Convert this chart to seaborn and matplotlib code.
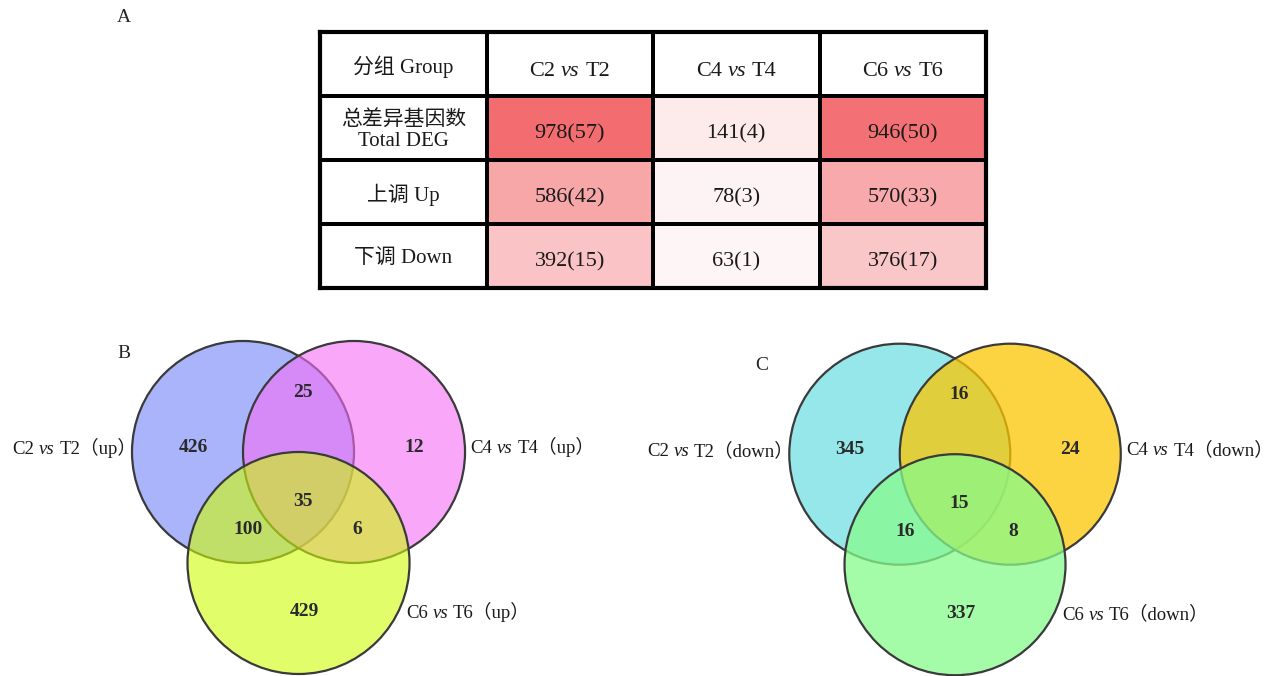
import numpy as np
import pandas as pd
import matplotlib.pyplot as plt
import seaborn as sns
from matplotlib.colors import LinearSegmentedColormap, to_rgba
from matplotlib.patches import Circle
from matplotlib.transforms import offset_copy

# ---- data ----
ctrl = ["C2", "C4", "C6"]
treat = ["T2", "T4", "T6"]
head_label = "分组 Group"
row_labels = ["总差异基因数\nTotal DEG", "上调 Up", "下调 Down"]
total_deg = [978, 141, 946]
total_sig = [57, 4, 50]
up_deg = [586, 78, 570]
up_sig = [42, 3, 33]
down_deg = [392, 63, 376]
down_sig = [15, 1, 17]

# venn regions: A only, A&B, B only, A&B&C, A&C, B&C, C only
venn_up = [426, 25, 12, 35, 100, 6, 429]
venn_down = [345, 16, 24, 15, 16, 8, 337]
up_colors = ["#7182f7", "#f56ef5", "#d0fd07"]
down_colors = ["#73e0e3", "#fbc602", "#87fb8b"]

sns.set_style("white")
plt.rcParams["font.family"] = ["Liberation Serif", "Noto Sans CJK SC"]

fig = plt.figure(figsize=(12.77, 6.76), dpi=100)
renderer = fig.canvas.get_renderer()


def rich_text(ax, x, y, parts, ha="center", size=14, color="#1a1a1a"):
    # pieces of text with own style, laid out side by side on one baseline
    arts = [ax.text(x, y, s, ha="left", va="baseline", fontstyle=st,
                    fontsize=size, color=color) for s, st in parts]
    widths = [a.get_window_extent(renderer).width for a in arts]
    px = size * fig.dpi / 72
    gap = 0.25 * px
    total = sum(widths) + gap * (len(arts) - 1)
    off = {"left": 0, "center": -total / 2, "right": -total}[ha]
    for a, w in zip(arts, widths):
        a.set_transform(offset_copy(ax.transData, fig=fig, x=off, y=-0.33 * px,
                                    units="dots"))
        off += w + gap


def vs_parts(c, t, suffix=""):
    return [(c, "normal"), ("vs", "italic"), (t + suffix, "normal")]


# ---- table (A) ----
vals = np.array([total_deg, up_deg, down_deg], dtype=float)
sig = np.array([total_sig, up_sig, down_sig])
grid = np.full((4, 4), np.nan)
grid[1:, 1:] = vals
annot = np.full((4, 4), "", dtype=object)
for i in range(3):
    for j in range(3):
        annot[i + 1, j + 1] = f"{int(vals[i, j])}({sig[i, j]})"

cmap = LinearSegmentedColormap.from_list("deg", ["#ffffff", "#f36c70"])
cmap.set_bad("white")

ax_t = fig.add_axes([320 / 1277, 1 - 288 / 676, 666 / 1277, 256 / 676])
sns.heatmap(pd.DataFrame(grid), ax=ax_t, cmap=cmap, vmin=0, vmax=vals.max(),
            annot=annot, fmt="", cbar=False, linewidths=2.6, linecolor="black",
            annot_kws={"color": "#1a1a1a", "fontsize": 16, "va": "center_baseline"},
            xticklabels=False, yticklabels=False)
for t in ax_t.texts:
    x0, y0 = t.get_position()
    t.set_position((x0, y0 + 0.05))
for s in ax_t.spines.values():
    s.set_visible(True)
    s.set_linewidth(3)
    s.set_color("black")

ax_t.text(0.5, 0.55, head_label, ha="center", va="center", fontsize=15,
          color="#1a1a1a")
for j in range(3):
    rich_text(ax_t, j + 1.5, 0.58, vs_parts(ctrl[j], treat[j]), size=16)
for i, lab in enumerate(row_labels):
    ax_t.text(0.5, i + 1.54, lab, ha="center", va="center", fontsize=15,
              linespacing=1.2, color="#1a1a1a")


# ---- venn (B, C) ----
def venn3(ax, counts, colors, suffix, alpha=0.6):
    centers = [(-0.5, 0.5), (0.5, 0.5), (0.0, -0.5)]
    for c, col in zip(centers, colors):
        ax.add_patch(Circle(c, 1.0, facecolor=to_rgba(col, alpha),
                            edgecolor="#3a3a3a", lw=1.6))
    spots = [(-0.95, 0.54), (0.04, 1.04), (1.04, 0.54), (0.04, 0.05),
             (-0.45, -0.2), (0.53, -0.2), (0.05, -0.94)]
    for (x, y), n in zip(spots, counts):
        ax.text(x, y, str(n), ha="center", va="center", fontsize=14,
                fontweight="bold", color="#2a2a2a")
    anchors = [(-1.46, 0.54, "right"), (1.55, 0.55, "left"), (0.97, -0.94, "left")]
    for (x, y, ha), c, t in zip(anchors, ctrl, treat):
        rich_text(ax, x, y, vs_parts(c, t, suffix), ha=ha, size=13.5)
    ax.set_axis_off()


ax_b = fig.add_axes([0, 0, 620 / 1277, 346 / 676])
ax_b.set_xlim(-2.689, 2.896)
ax_b.set_ylim(-1.518, 1.599)
venn3(ax_b, venn_up, up_colors, "（up）", alpha=0.6)

ax_c = fig.add_axes([640 / 1277, 0, 637 / 1277, 346 / 676])
ax_c.set_xlim(-2.851, 2.914)
ax_c.set_ylim(-1.507, 1.624)
venn3(ax_c, venn_down, down_colors, "（down）", alpha=0.75)

fig.text(124 / 1277, 1 - 17 / 676, "A", ha="center", va="center", fontsize=14)
fig.text(124 / 1277, 1 - 354 / 676, "B", ha="center", va="center", fontsize=14)
fig.text(762 / 1277, 1 - 366 / 676, "C", ha="center", va="center", fontsize=14)

fig.savefig("out.png", dpi=100)
